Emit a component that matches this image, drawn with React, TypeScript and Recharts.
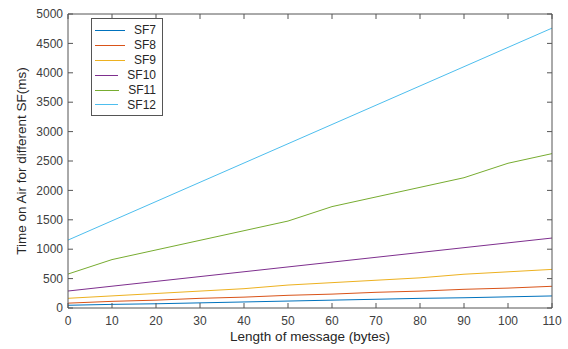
import React from 'react';
import { LineChart, Line, XAxis, YAxis, Legend, Label } from 'recharts';

const lengths = [0, 10, 20, 30, 40, 50, 60, 70, 80, 90, 100, 110];
const sf7 = [46.3, 61.7, 71.9, 87.3, 102.7, 118.0, 133.4, 148.7, 164.1, 174.3, 189.7, 205.1];
const sf8 = [82.4, 113.2, 133.6, 164.4, 184.8, 215.6, 236.0, 266.8, 287.2, 318.0, 338.4, 369.2];
const sf9 = [164.9, 205.8, 246.8, 287.7, 328.7, 390.1, 431.1, 472.1, 513.0, 574.5, 615.4, 656.4];
const sf10 = [288.8, 370.7, 452.6, 534.5, 616.4, 698.4, 780.3, 862.2, 944.1, 1026.0, 1108.0, 1189.9];
const sf11 = [577.5, 823.3, 987.1, 1151.0, 1314.8, 1478.7, 1724.4, 1888.3, 2052.1, 2215.9, 2461.7, 2625.5];
const sf12 = [1155.1, 1482.8, 1810.4, 2138.1, 2465.8, 2793.5, 3121.2, 3448.8, 3776.5, 4104.2, 4431.9, 4759.6];

const xTicks = [0, 10, 20, 30, 40, 50, 60, 70, 80, 90, 100, 110];
const yTicks = [0, 500, 1000, 1500, 2000, 2500, 3000, 3500, 4000, 4500, 5000];

const seriesNames = ['SF7', 'SF8', 'SF9', 'SF10', 'SF11', 'SF12'];
const seriesValues = [sf7, sf8, sf9, sf10, sf11, sf12];
const colors = ['#0072BD', '#D95319', '#EDB120', '#7E2F8E', '#77AC30', '#4DBEEE'];

const data = lengths.map((len, i) => {
  const row: Record<string, number> = { len };
  seriesNames.forEach((n, k) => {
    row[n] = seriesValues[k][i];
  });
  return row;
});

const FONT = '"Liberation Sans", Arial, Helvetica, sans-serif';
const AXIS = '#555555';
const TEXT = '#404040';

const LegendBox = () => {
  return (
    <div
      style={{
        border: `1px solid ${AXIS}`,
        background: '#fff',
        padding: '4px 6px 3px 3px',
        fontFamily: FONT,
        fontSize: 12,
        color: '#262626',
        boxSizing: 'border-box',
        width: 72,
      }}
    >
      {seriesNames.map((n, k) => (
        <div key={n} style={{ display: 'flex', alignItems: 'center', height: 14.9 }}>
          <div style={{ width: 30, borderTop: `1px solid ${colors[k]}`, marginRight: 9 }} />
          <span>{n}</span>
        </div>
      ))}
    </div>
  );
};

export default function App() {
  return (
    <div style={{ position: 'absolute', left: 0, top: 0, width: 568, height: 349, background: '#fff' }}>
      <LineChart
        width={568}
        height={349}
        data={data}
        margin={{ top: 13, right: 15, bottom: 11, left: 8 }}
      >
        <XAxis
          dataKey="len"
          type="number"
          domain={[0, 110]}
          ticks={xTicks}
          height={30}
          tickSize={-5}
          tickMargin={13}
          stroke={AXIS}
          tick={{ fill: TEXT, fontSize: 12, fontFamily: FONT }}
          interval={0}
        >
          <Label
            value="Length of message (bytes)"
            position="bottom"
            offset={-6.5}
            fill="#262626"
            fontSize={13.5}
            fontFamily={FONT}
          />
        </XAxis>
        <XAxis
          xAxisId="top"
          orientation="top"
          dataKey="len"
          type="number"
          domain={[0, 110]}
          allowDataOverflow
          ticks={xTicks}
          height={1}
          tickSize={-5}
          stroke={AXIS}
          tickFormatter={() => ''}
          interval={0}
        />
        <YAxis
          type="number"
          domain={[0, 5000]}
          ticks={yTicks}
          width={60}
          tickSize={-5}
          tickMargin={10}
          stroke={AXIS}
          tick={{ fill: TEXT, fontSize: 12, fontFamily: FONT }}
          interval={0}
        >
          <Label
            value="Time on Air for different SF(ms)"
            position="insideLeft"
            angle={-90}
            offset={13}
            fill="#262626"
            fontSize={13.5}
            fontFamily={FONT}
            style={{ textAnchor: 'middle' }}
          />
        </YAxis>
        <YAxis
          yAxisId="right"
          orientation="right"
          type="number"
          domain={[0, 5000]}
          allowDataOverflow
          ticks={yTicks}
          width={1}
          tickSize={-5}
          stroke={AXIS}
          tickFormatter={() => ''}
          interval={0}
        />
        <Legend
          layout="vertical"
          align="center"
          verticalAlign="middle"
          content={<LegendBox />}
          wrapperStyle={{ left: 91, top: 18, width: 72 }}
        />
        <Line
          xAxisId="top"
          yAxisId="right"
          dataKey="SF12"
          stroke="none"
          dot={false}
          activeDot={false}
          legendType="none"
          isAnimationActive={false}
        />
        {seriesNames.map((n, k) => (
          <Line
            key={n}
            dataKey={n}
            name={n}
            stroke={colors[k]}
            strokeWidth={1}
            dot={false}
            activeDot={false}
            isAnimationActive={false}
          />
        ))}
      </LineChart>
    </div>
  );
}
